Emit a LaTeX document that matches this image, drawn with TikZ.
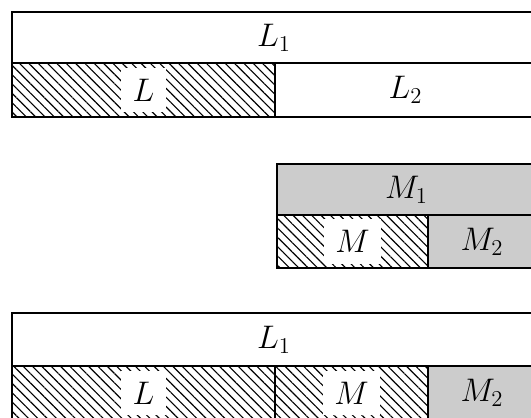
\documentclass[tikz,border=0pt]{standalone}
\usepackage{amsmath}
\usetikzlibrary{patterns.meta}
\definecolor{cellgray}{gray}{0.8}

\begin{document}
\begin{tikzpicture}[
  x=0.0186cm, y=-0.0186cm,
  font=\LARGE,
  cell/.style={draw,line width=1.5pt},
  hatchcell/.style={cell,pattern={Lines[angle=-45,distance=3.5pt,line width=0.6pt]}},
  graycell/.style={cell,fill=cellgray},
  lab/.style={inner sep=6pt},
  hatchlab/.style={lab,fill=white}
]
\useasboundingbox (0,0) rectangle (531,418);
\clip (0,0) rectangle (531,418);

% L = L_1 cap L_2 first
\draw[cell] (12,12) rectangle (536,63);
\draw[hatchcell] (12,63) rectangle (275,117);
\draw[cell] (275,63) rectangle (536,117);
\node[lab] (la1) at (274,37.5) {$L_1$};
\node[hatchlab] (la) at (143.5,90) {$L$};
\node[lab] (la2) at (405.5,90) {$L_2$};

% then M inside M_1
\draw[graycell] (277,164) rectangle (536,215);
\draw[hatchcell] (277,215) rectangle (428,268);
\draw[graycell] (428,215) rectangle (536,268);
\node[lab] (mb1) at (406.5,189.5) {$M_1$};
\node[hatchlab] (mb) at (352.5,241.5) {$M$};
\node[lab] (mb2) at (482,241.5) {$M_2$};

% glued together
\draw[cell] (12,313) rectangle (536,366);
\draw[hatchcell] (12,366) rectangle (275,420);
\draw[hatchcell] (275,366) rectangle (428,420);
\draw[graycell] (428,366) rectangle (536,420);
\node[lab] (lc1) at (274,339.5) {$L_1$};
\node[hatchlab] (lc) at (143.5,393) {$L$};
\node[hatchlab] (mc) at (351.5,393) {$M$};
\node[lab] (mc2) at (482,393) {$M_2$};
\end{tikzpicture}
\end{document}
